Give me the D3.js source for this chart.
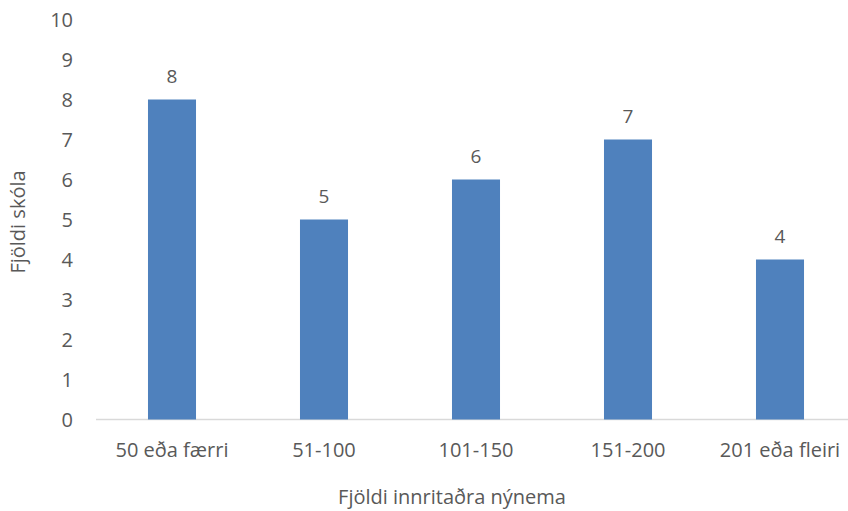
<!DOCTYPE html>
<html><head><meta charset="utf-8">
<script src="https://cdn.jsdelivr.net/npm/d3@7"></script>
<style>body{margin:0;background:#fff}svg{display:block}text{font-family:"Open Sans",sans-serif;fill:#595959}</style>
</head><body><svg id="c" width="848" height="511"></svg>
<script>
const categories = ["50 eða færri","51-100","101-150","151-200","201 eða fleiri"];
const values = [8,5,6,7,4];
const yTicks = [0,1,2,3,4,5,6,7,8,9,10];
const xTitle = "Fjöldi innritaðra nýnema";
const yTitle = "Fjöldi skóla";

const svg = d3.select("#c");
const x = d3.scaleBand().domain(categories).range([96,856]).padding(0);
const y = d3.scaleLinear().domain([0,10]).range([419.5,19.5]);
const barW = x.bandwidth()*0.316;

svg.append("line").attr("x1",96).attr("x2",848).attr("y1",y(0)).attr("y2",y(0))
  .attr("stroke","#d9d9d9").attr("stroke-width",1.3);

svg.selectAll("rect.bar").data(values).join("rect").attr("class","bar")
  .attr("x",(d,i)=>x(categories[i])+x.bandwidth()/2-barW/2)
  .attr("width",barW)
  .attr("y",d=>y(d)).attr("height",d=>y(0)-y(d)).attr("fill","#4f81bd");

svg.selectAll("text.val").data(values).join("text").attr("class","val")
  .attr("x",(d,i)=>x(categories[i])+x.bandwidth()/2).attr("y",d=>y(d)-23.5).attr("dy","0.35em")
  .attr("text-anchor","middle").attr("font-size",19).text(d=>d);

svg.selectAll("text.yt").data(yTicks).join("text").attr("class","yt")
  .attr("x",73).attr("y",d=>y(d)).attr("dy","0.35em").attr("text-anchor","end")
  .attr("font-size",20).text(d=>d);

svg.selectAll("text.xt").data(categories).join("text").attr("class","xt")
  .attr("x",d=>x(d)+x.bandwidth()/2).attr("y",450).attr("dy","0.35em")
  .attr("text-anchor","middle").attr("font-size",20).text(d=>d);

svg.append("text").attr("x",452).attr("y",497).attr("dy","0.35em").attr("text-anchor","middle")
  .attr("font-size",20).text(xTitle);
svg.append("text").attr("transform","translate(18,222) rotate(-90)").attr("dy","0.35em")
  .attr("text-anchor","middle").attr("font-size",20).text(yTitle);
</script></body></html>
